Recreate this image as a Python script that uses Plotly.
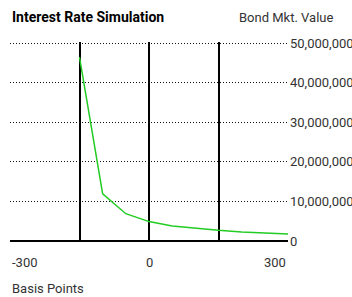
import plotly.graph_objects as go

basis_points = [-150, -100, -50, 0, 50, 100, 150, 200, 250, 300]
bond_value = [46500000, 11900000, 6900000, 4900000, 3800000, 3200000, 2700000, 2300000, 2000000, 1800000]
x_tick_labels = [-300, 0, 300]
x_grid = [-150, 0, 150]
y_ticks = [0, 10000000, 20000000, 30000000, 40000000, 50000000]
y_max = 50300000

FONT = "Roboto, Arial"
L, R, T, B = 10, 288, 42, 241
W, H = 352, 297


def px(xp):
    return (xp - L) / (R - L)


def py(yp):
    return (B - yp) / (B - T)


fig = go.Figure()
fig.add_trace(go.Scatter(x=basis_points, y=bond_value, mode="lines",
                         line=dict(color="#22cc22", width=1.5), hoverinfo="skip"))

fig.update_layout(
    width=W, height=H,
    margin=dict(l=L, r=W - R, t=T, b=H - B, autoexpand=False),
    paper_bgcolor="white", plot_bgcolor="white",
    showlegend=False,
    font=dict(family=FONT, size=13, color="#333333"),
    xaxis=dict(range=[-300, 300], tickvals=x_grid, showticklabels=False,
               showgrid=True, gridcolor="black", gridwidth=1.5,
               zeroline=False, showline=False, fixedrange=True),
    yaxis=dict(range=[0, y_max], tickvals=y_ticks, tickformat=",",
               side="right", showgrid=True, gridcolor="#111111", gridwidth=1,
               griddash="1px,2px", zeroline=True, zerolinecolor="black", zerolinewidth=1.5,
               showline=False, ticks="", ticklabelstandoff=1, fixedrange=True,
               tickfont=dict(family=FONT, size=13, color="#333333")),
)

anchors = ["left", "center", "right"]
for i, v in enumerate(x_tick_labels):
    fig.add_annotation(x=v, y=py(262), xref="x", yref="paper", text=str(v), showarrow=False,
                       xanchor=anchors[i], yanchor="middle",
                       font=dict(family=FONT, size=13, color="#333333"))

fig.add_annotation(x=px(10), y=py(17), xref="paper", yref="paper", xanchor="left", yanchor="middle",
                   text="<b>Interest Rate Simulation</b>", showarrow=False,
                   font=dict(family=FONT, size=14, color="black"))
fig.add_annotation(x=px(237), y=py(17), xref="paper", yref="paper", xanchor="left", yanchor="middle",
                   text="Bond Mkt. Value", showarrow=False,
                   font=dict(family=FONT, size=13, color="#333333"))
fig.add_annotation(x=px(10), y=py(288), xref="paper", yref="paper", xanchor="left", yanchor="middle",
                   text="Basis Points", showarrow=False,
                   font=dict(family=FONT, size=13, color="#333333"))

fig.write_html("out.html", config={"displayModeBar": False},
               post_script="document.body.style.margin='0';document.body.style.overflow='hidden';")
